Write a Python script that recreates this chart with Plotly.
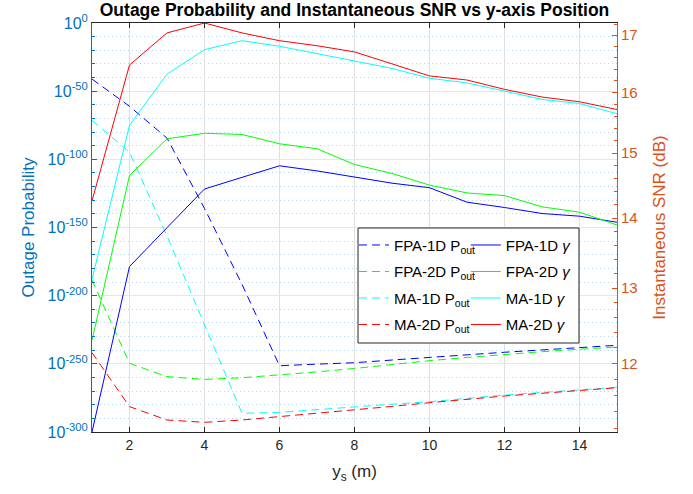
import numpy as np
import plotly.graph_objects as go

# y_s positions (m)
ys = list(range(1, 16))

# outage probability, stored as log10 exponents
fpa1d_pout_exp = [-41.1, -61.1, -84.4, -136.0, -191.7, -251.4, -250.2, -249.2, -247.2, -245.2, -243.3, -241.5, -239.8, -238.2, -236.4]
fpa2d_pout_exp = [-188.5, -249.6, -259.4, -261.4, -260.2, -258.2, -255.9, -253.4, -250.5, -247.7, -245.3, -243.0, -241.1, -239.3, -237.7]
ma1d_pout_exp = [-71.4, -94.7, -156.2, -221.2, -286.3, -285.6, -283.5, -281.4, -279.6, -277.8, -275.3, -272.9, -271.0, -269.2, -267.2]
ma2d_pout_exp = [-241.8, -281.4, -291.2, -292.9, -291.2, -288.8, -286.3, -283.9, -281.2, -278.5, -276.0, -273.6, -271.6, -269.7, -267.5]

# instantaneous SNR (dB)
fpa1d_snr = [11.16, 13.30, 13.86, 14.44, 14.62, 14.80, 14.72, 14.63, 14.53, 14.46, 14.24, 14.16, 14.07, 14.03, 13.94]
fpa2d_snr = [12.30, 14.65, 15.23, 15.32, 15.30, 15.15, 15.07, 14.82, 14.68, 14.50, 14.38, 14.34, 14.17, 14.09, 13.90]
ma1d_snr = [13.12, 15.45, 16.31, 16.74, 16.90, 16.80, 16.67, 16.54, 16.41, 16.24, 16.16, 16.02, 15.88, 15.81, 15.64]
ma2d_snr = [14.26, 16.47, 17.04, 17.22, 17.04, 16.90, 16.81, 16.70, 16.49, 16.28, 16.21, 16.05, 15.92, 15.84, 15.71]

schemes = ["FPA-1D", "FPA-2D", "MA-1D", "MA-2D"]
colors = ["#0000FF", "#00FF00", "#00FFFF", "#FF0000"]
pout_sets = [fpa1d_pout_exp, fpa2d_pout_exp, ma1d_pout_exp, ma2d_pout_exp]
snr_sets = [fpa1d_snr, fpa2d_snr, ma1d_snr, ma2d_snr]

left_ticks = list(range(-300, 1, 50))
snr_ticks = [12, 13, 14, 15, 16, 17]

FONT = "Liberation Sans, Arial, Helvetica, sans-serif"
BLUE = "#0072BD"
ORANGE = "#D95319"
DARK = "#262626"

fig = go.Figure()

for name, col, pexp in zip(schemes, colors, pout_sets):
    fig.add_trace(go.Scatter(
        x=ys, y=[10.0 ** e for e in pexp], mode="lines",
        line=dict(color=col, width=1, dash="8px,5px"),
        name=name + " P<sub>out</sub>", legend="legend", legendgroup=name + "p",
        yaxis="y"))

for name, col, snr in zip(schemes, colors, snr_sets):
    fig.add_trace(go.Scatter(
        x=ys, y=snr, mode="lines",
        line=dict(color=col, width=1),
        name=name + " <i>γ</i>", legend="legend2", legendgroup=name + "g",
        yaxis="y2"))

# legend frame
fig.add_shape(type="rect", xref="paper", yref="paper",
              x0=0.5067, x1=0.9276, y0=0.2176, y1=0.4988,
              line=dict(color=DARK, width=1), fillcolor="white", layer="above")

leg = dict(xanchor="left", yanchor="top", bgcolor="rgba(0,0,0,0)", borderwidth=0,
           font=dict(family=FONT, size=15, color="#000000"), tracegroupgap=4, itemwidth=30)

fig.update_layout(
    width=693, height=494,
    margin=dict(l=92, r=76, t=23, b=62, autoexpand=False),
    paper_bgcolor="white", plot_bgcolor="white",
    font=dict(family=FONT, size=14, color=DARK),
    title=dict(text="<b>Outage Probability and Instantaneous SNR vs y-axis Position</b>",
               x=0.5116, xanchor="center", y=0.981, yanchor="middle",
               font=dict(family=FONT, size=17.5, color="#000000")),
    legend=dict(x=0.499, y=0.497, **leg),
    legend2=dict(x=0.712, y=0.497, **leg),
    xaxis=dict(
        range=[1, 15], tickvals=list(range(2, 15, 2)), automargin=False,
        ticks="inside", ticklen=5, tickcolor=DARK, showline=True, linecolor=DARK,
        mirror="ticks", showgrid=True, gridcolor="#DFDFDF", zeroline=False,
        tickfont=dict(size=14, color=DARK),
        title=dict(text="y<sub>s</sub> (m)", font=dict(size=17, color=DARK), standoff=13)),
    yaxis=dict(
        type="log", range=[-300, 0], automargin=False,
        tickvals=[10.0 ** t for t in left_ticks],
        ticktext=["10<sup>%d</sup>" % t for t in left_ticks],
        ticks="inside", ticklen=5, tickcolor=BLUE, showline=True, linecolor=BLUE,
        showgrid=True, gridcolor="#D9EAF5", zeroline=False,
        tickfont=dict(size=16, color=BLUE),
        minor=dict(tickmode="array",
                   tickvals=[10.0 ** t for t in range(-290, 0, 10) if t % 50 != 0],
                   ticks="inside", ticklen=3, tickcolor=BLUE,
                   showgrid=True, gridcolor="#B8D6EC", griddash="1px,3px"),
        title=dict(text="Outage Probability", font=dict(size=17, color=BLUE), standoff=8)),
    yaxis2=dict(
        type="log", overlaying="y", side="right", automargin=False,
        range=[np.log10(11.16), np.log10(17.22)],
        tickvals=snr_ticks, ticktext=[str(t) for t in snr_ticks],
        ticks="inside", ticklen=5, tickcolor=ORANGE, showline=True, linecolor=ORANGE,
        showgrid=False, zeroline=False,
        tickfont=dict(size=15, color=ORANGE),
        minor=dict(tickmode="array",
                   tickvals=[round(11.2 + 0.2 * i, 1) for i in range(31) if abs((11.2 + 0.2 * i) % 1) > 0.05 and abs((11.2 + 0.2 * i) % 1) < 0.95],
                   ticks="inside", ticklen=3, tickcolor=ORANGE, showgrid=False),
        title=dict(text="Instantaneous SNR (dB)", font=dict(size=17, color=ORANGE), standoff=16)),
)

# drop the browser's default body margin so the figure sits at the page origin
fig.write_html("out.html", config={"displayModeBar": False},
               post_script="document.body.style.margin='0';")
